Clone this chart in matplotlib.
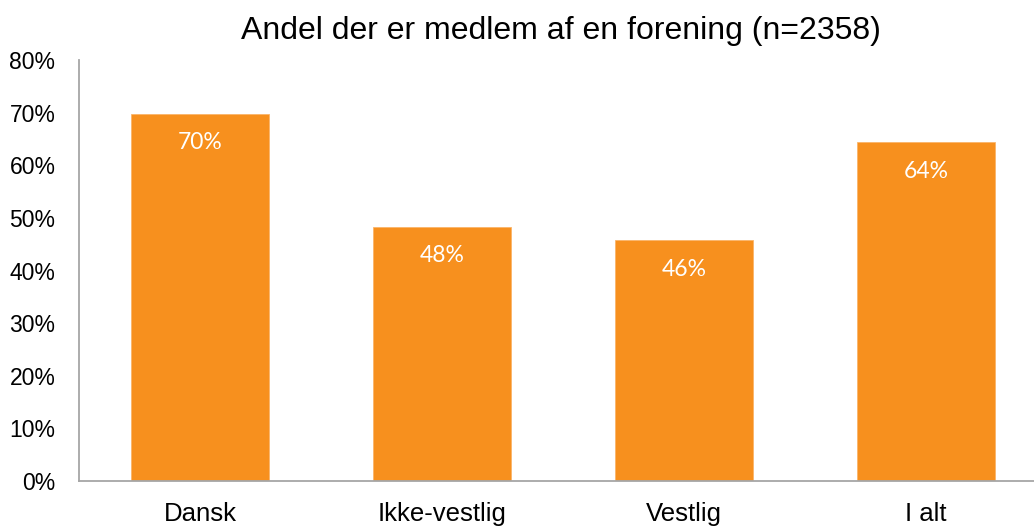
import matplotlib.pyplot as plt
from matplotlib.ticker import PercentFormatter

categories = ["Dansk", "Ikke-vestlig", "Vestlig", "I alt"]
shares = [69.8, 48.3, 45.8, 64.4]
labels = ["70%", "48%", "46%", "64%"]
yticks = [0, 10, 20, 30, 40, 50, 60, 70, 80]

plt.rcParams["font.family"] = ["Liberation Sans", "DejaVu Sans"]

fig = plt.figure(figsize=(10.34, 5.3), dpi=100)
ax = fig.add_axes([79 / 1034, 49 / 530, 1 - 79 / 1034, 421 / 530])

x = range(len(categories))
bars = ax.bar(x, shares, width=0.57, color="#F7901E", edgecolor="#FBB56A", linewidth=0.6)

for i, (val, lab) in enumerate(zip(shares, labels)):
    ax.annotate(lab, (i, val), xytext=(0, -21), textcoords="offset points",
                ha="center", va="center", color="white", fontsize=16.5, family="Lato")

ax.set_xlim(-0.5, 3.446)
ax.set_ylim(0, 80)
ax.set_yticks(yticks)
ax.yaxis.set_major_formatter(PercentFormatter(decimals=0))
ax.set_xticks(list(x))
ax.set_xticklabels(categories)
ax.tick_params(axis="y", length=0, pad=17, labelsize=16.5)
ax.tick_params(axis="x", length=0, pad=15, labelsize=18.5)

for side in ["top", "right"]:
    ax.spines[side].set_visible(False)
for side in ["left", "bottom"]:
    ax.spines[side].set_color("#A6A6A6")
    ax.spines[side].set_linewidth(1.3)

fig.text(561 / 1034, 1 - 31 / 530, "Andel der er medlem af en forening (n=2358)",
         ha="center", va="center", fontsize=23)

fig.savefig("out.png", dpi=100)
